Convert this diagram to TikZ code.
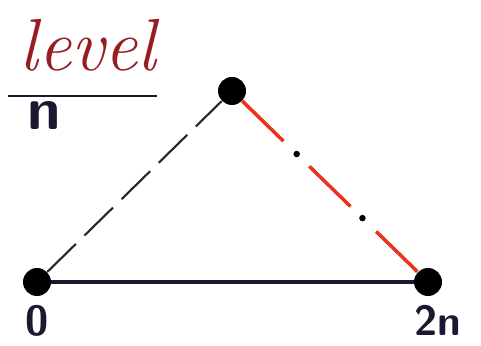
\documentclass[tikz,border=0pt]{standalone}
\usetikzlibrary{positioning}
\definecolor{inkred}{RGB}{150,30,35}
\definecolor{inkblue}{RGB}{25,25,50}
\definecolor{penred}{RGB}{235,50,30}
\tikzset{>=latex}
\tikzset{
  vertex/.style={circle,fill=black,inner sep=0pt,minimum size=0.56cm},
  pt/.style={circle,fill=black,inner sep=0pt,minimum size=0.13cm},
  hand/.style={font=\sffamily\bfseries\fontsize{24}{24}\selectfont,text=inkblue},
  baseedge/.style={line width=1.8pt,inkblue},
  leftedge/.style={line width=1.2pt,black!85,dash pattern=on 0.8cm off 0.24cm},
  rightedge/.style={line width=2pt,penred,dash pattern=on 1.15cm off 0.72cm},
}
\begin{document}
\begin{tikzpicture}
  \useasboundingbox (0,0) rectangle (9.62,6.9);
  % vertices of the triangle
  \node[vertex] (o) at (0.74,1.26) {};
  \node[vertex] (top) at (4.64,5.08) {};
  \node[vertex] (end) at (8.56,1.26) {};
  % edges
  \draw[baseedge] (o) -- (end);
  \draw[leftedge] (o) -- (top);
  \draw[rightedge] (top) -- (end)
    node[pt,pos=0.31] (d1) {}
    node[pt,pos=0.685] (d2) {};
  % labels
  \node[hand,below=0.05cm of o] (zero) {0};
  \node[hand,below=0.05cm of end,xshift=0.2cm] (twon) {2n};
  % header
  \node[inner sep=0pt,text=inkred,font=\itshape\fontsize{42}{42}\selectfont] (level) at (1.76,6.0) {level};
  \coordinate (ruleL) at (0.16,4.98);
  \coordinate (ruleR) at (3.14,4.98);
  \draw[line width=1.6pt,inkblue] (ruleL) -- (ruleR);
  \node[hand,inner sep=0pt,font=\sffamily\bfseries\fontsize{34}{34}\selectfont] (n) at (0.88,4.6) {n};
\end{tikzpicture}
\end{document}
